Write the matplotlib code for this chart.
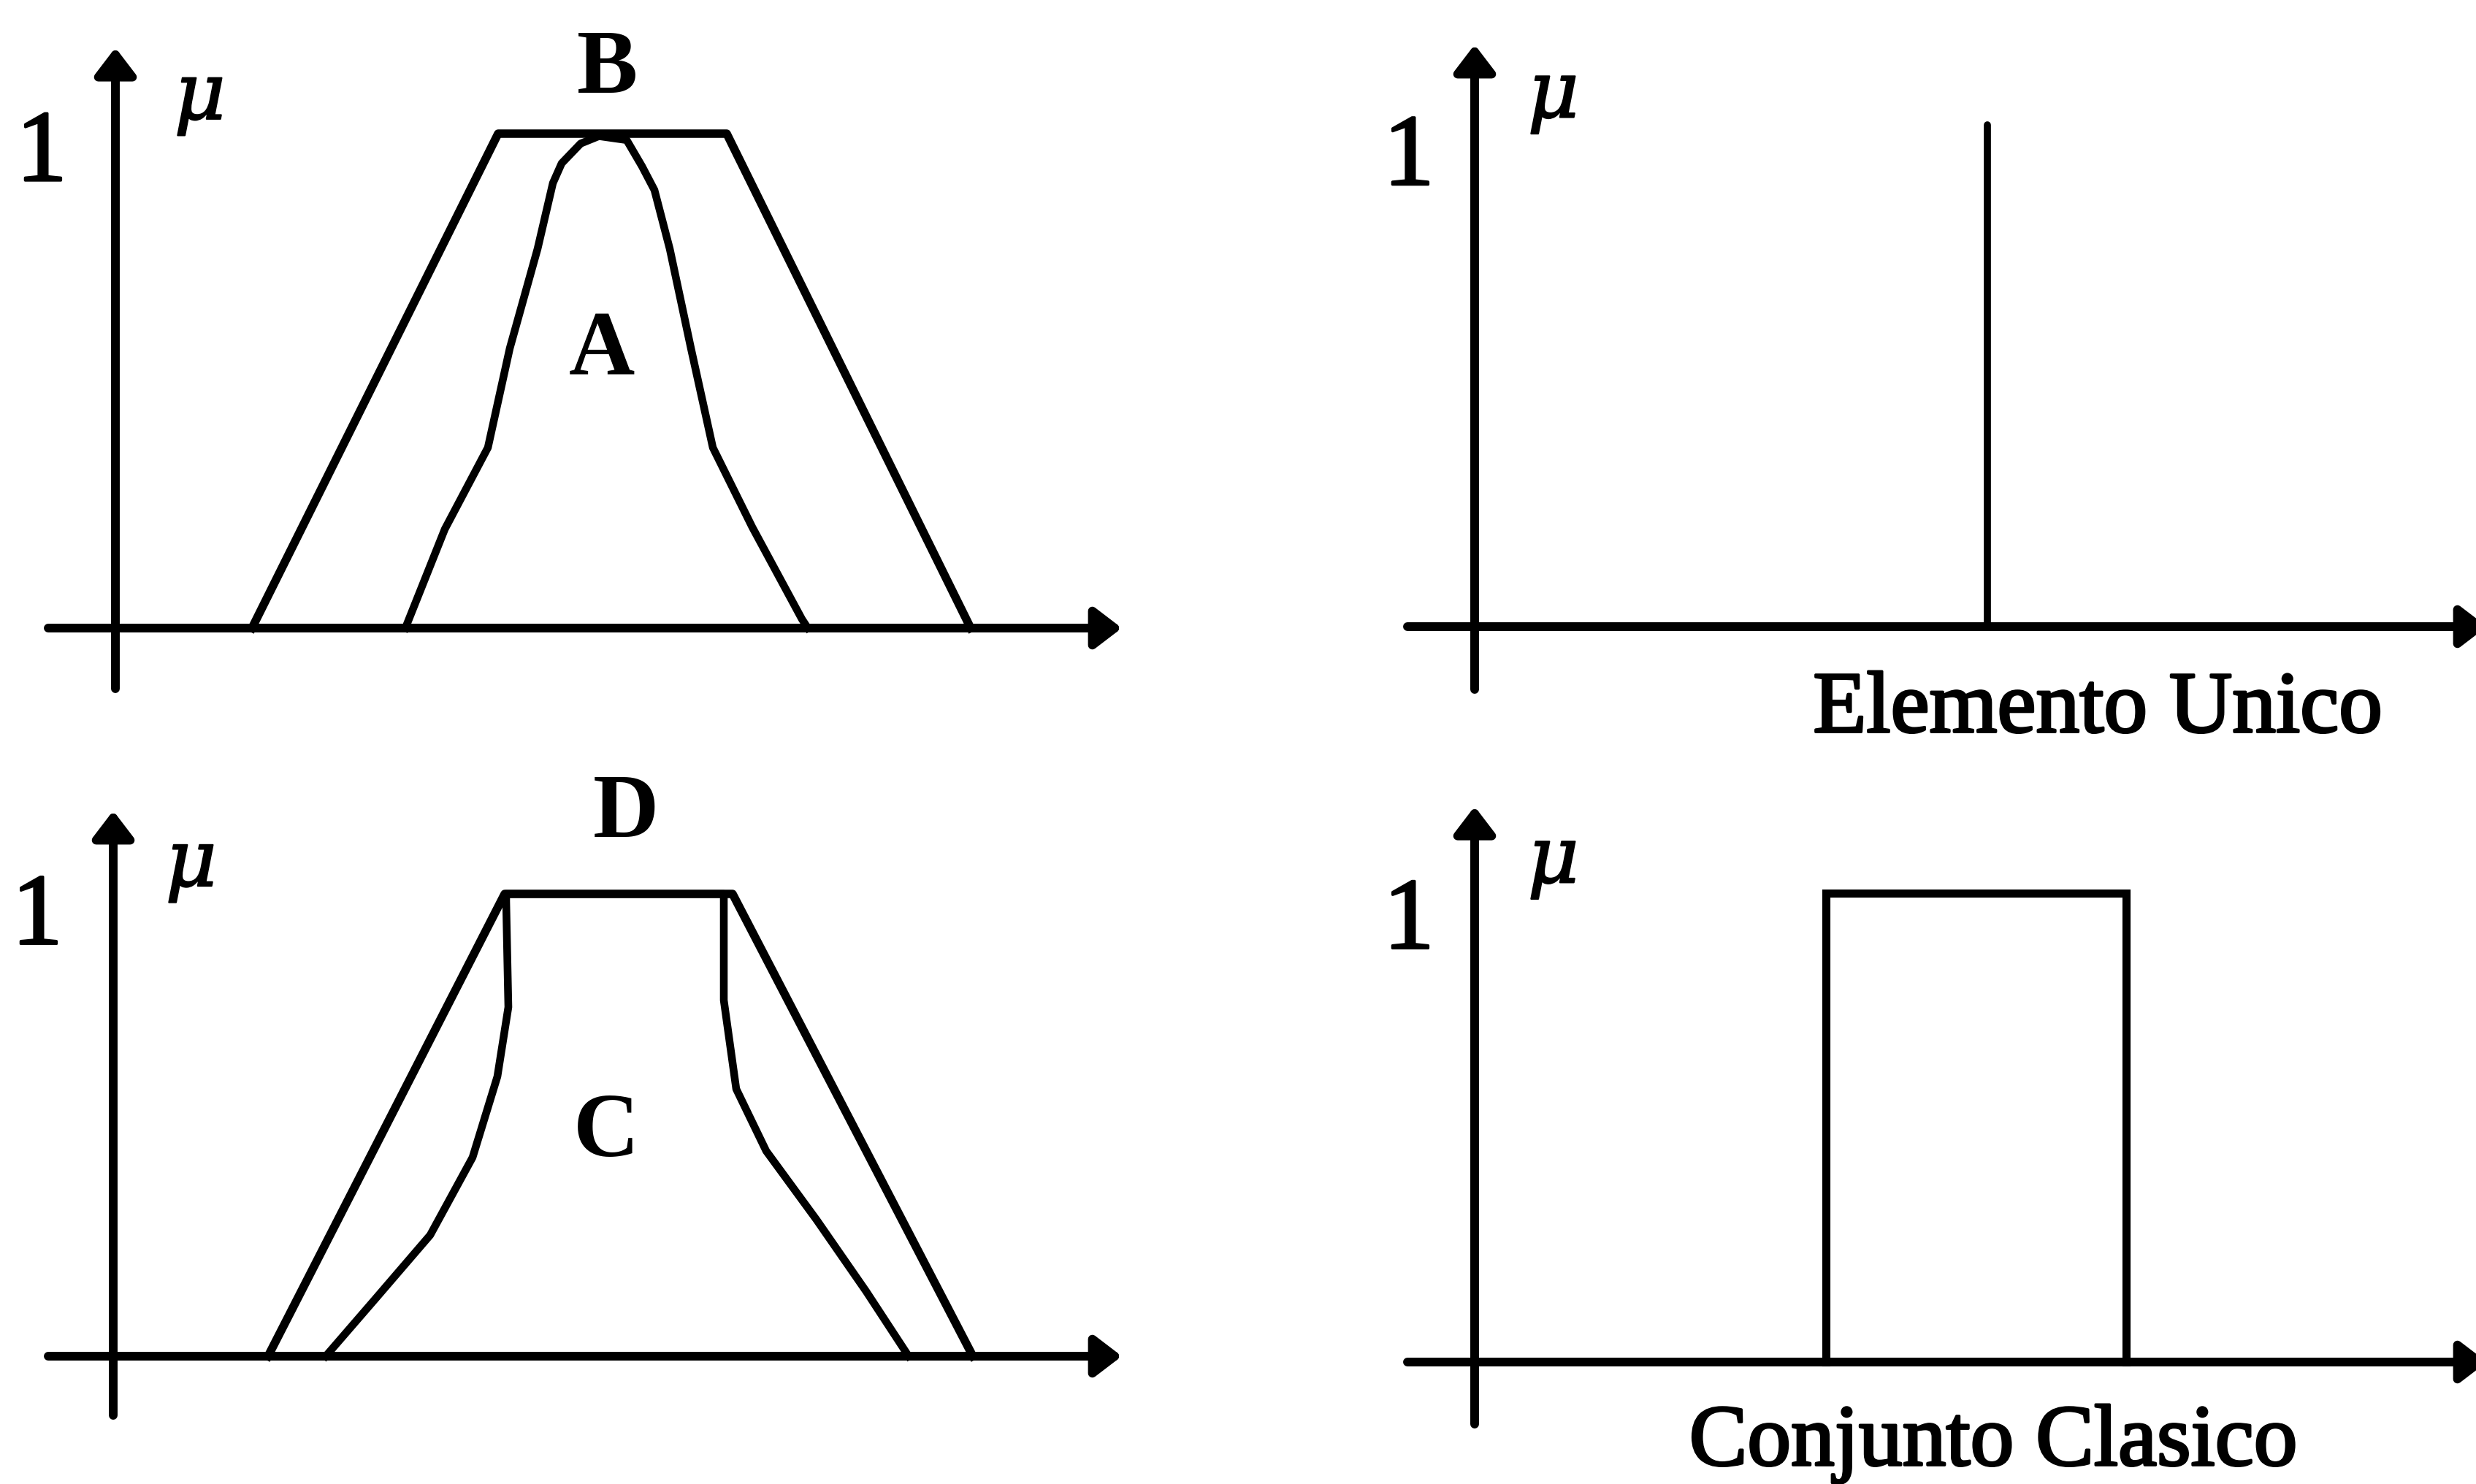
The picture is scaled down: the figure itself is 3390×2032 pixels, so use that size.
import matplotlib
matplotlib.use("Agg")
import matplotlib.pyplot as plt
import matplotlib.patheffects as pe

plt.rcParams['font.family'] = ['Liberation Serif', 'DejaVu Serif']

# fuzzy sets (x in universe units, mu = membership degree)
B_x = [1.87, 5.24, 8.37, 11.71]
B_mu = [0, 1, 1, 0]
A_x = [3.97, 4.51, 5.10, 5.40, 5.78, 5.99, 6.11, 6.37, 6.62,
       7.00, 7.21, 7.38, 7.59, 7.88, 8.18, 8.72, 9.40, 9.48]
A_mu = [0, 0.20, 0.365, 0.566, 0.767, 0.90, 0.94, 0.98, 0.995,
        0.987, 0.934, 0.886, 0.767, 0.566, 0.365, 0.204, 0.018, 0]

D_x = [2.12, 5.36, 8.48, 11.77]
D_mu = [0, 1, 1, 0]
C_x = [2.91, 3.60, 4.34, 4.92, 5.26, 5.41, 5.38, 5.38,
       8.36, 8.36, 8.53, 8.94, 9.63, 10.31, 10.89]
C_mu = [0, 0.126, 0.262, 0.43, 0.605, 0.755, 0.984, 1.0,
        1.0, 0.77, 0.578, 0.444, 0.295, 0.14, 0]

singleton_x = 7.02
singleton_mu = 1.0

crisp_lo, crisp_hi = 4.81, 8.92
crisp_mu = 1.0

W, H = 3390, 2032
fig = plt.figure(figsize=(W / 100, H / 100), dpi=100)
fig.patch.set_facecolor('white')

LW_AXIS = 8.6
LW_SET = 8.3
LW_INNER = 7.6
heavy = [pe.withStroke(linewidth=2.5, foreground='black')]


def panel(box, origin, unit_y):
    # box / origin in pixels (image coords), 100 px per x unit
    x0, y0, x1, y1 = box
    ox, oy = origin
    ax = fig.add_axes([x0 / W, 1 - y1 / H, (x1 - x0) / W, (y1 - y0) / H])
    ax.set_xlim((x0 - ox) / 100, (x1 - ox) / 100)
    ax.set_ylim((oy - y1) / unit_y, (oy - y0) / unit_y)
    ax.axis('off')
    return ax


def arrow(ax, start, tip):
    ax.annotate('', xy=tip, xytext=start,
                arrowprops=dict(arrowstyle='-|>,head_length=0.55,head_width=0.42',
                                mutation_scale=40, lw=LW_AXIS, color='black',
                                shrinkA=0, shrinkB=0, capstyle='round'),
                annotation_clip=False)


def axes_arrows(ax, x_left, x_tip, mu_bot, mu_tip):
    ax.plot([x_left, 0], [0, 0], color='black', lw=LW_AXIS,
            solid_capstyle='round', clip_on=False)
    arrow(ax, (0, 0), (x_tip, 0))
    ax.plot([0, 0], [mu_bot, 0], color='black', lw=LW_AXIS,
            solid_capstyle='round', clip_on=False)
    arrow(ax, (0, 0), (0, mu_tip))


def one_and_mu(ax, one_x, one_y, mu_x, mu_y):
    ax.text(one_x, one_y, '1', fontsize=100, ha='center', va='center',
            path_effects=heavy)
    ax.text(mu_x, mu_y, r'$\mu$', fontsize=78, ha='center', va='center',
            math_fontfamily='dejavuserif',
            path_effects=[pe.withStroke(linewidth=1.5, foreground='black')])


# top left: A inside B
ax1 = panel((0, 0, 1695, 1016), (158, 860), 677)
axes_arrows(ax1, -0.92, 13.78, -0.123, 1.174)
ax1.plot(B_x, B_mu, color='black', lw=LW_SET, solid_joinstyle='round', clip_on=False)
ax1.plot(A_x, A_mu, color='black', lw=LW_INNER, solid_joinstyle='round', clip_on=False)
one_and_mu(ax1, -1.01, 0.955, 1.14, 1.065)
ax1.text(6.74, 1.127, 'B', fontsize=90, fontweight='bold', ha='center', va='center')
ax1.text(6.66, 0.557, 'A', fontsize=90, fontweight='bold', ha='center', va='center')

# top right: singleton
ax2 = panel((1695, 0, 3390, 1016), (2019, 858), 687)
axes_arrows(ax2, -0.92, 13.86, -0.125, 1.16)
ax2.vlines(singleton_x, 0, singleton_mu, color='black', lw=7, capstyle='round')
one_and_mu(ax2, -0.90, 0.93, 1.06, 1.05)
ax2.text(8.53, -0.168, 'Elemento Unico', fontsize=86, ha='center', va='center',
         path_effects=heavy)

# bottom left: C inside D
ax3 = panel((0, 1016, 1695, 2032), (155, 1857), 633)
axes_arrows(ax3, -0.89, 13.81, -0.128, 1.18)
ax3.plot(D_x, D_mu, color='black', lw=LW_SET, solid_joinstyle='round', clip_on=False)
ax3.plot(C_x, C_mu, color='black', lw=LW_INNER, solid_joinstyle='round', clip_on=False)
one_and_mu(ax3, -1.04, 0.945, 1.05, 1.055)
ax3.text(7.02, 1.17, 'D', fontsize=90, fontweight='bold', ha='center', va='center')
ax3.text(6.75, 0.48, 'C', fontsize=90, fontweight='bold', ha='center', va='center')

# bottom right: crisp set
ax4 = panel((1695, 1016, 3390, 2032), (2019, 1865), 642)
axes_arrows(ax4, -0.92, 13.86, -0.132, 1.185)
ax4.plot([crisp_lo, crisp_lo, crisp_hi, crisp_hi], [0, crisp_mu, crisp_mu, 0],
         color='black', lw=8, solid_joinstyle='miter', clip_on=False)
one_and_mu(ax4, -0.90, 0.935, 1.06, 1.06)
ax4.text(7.10, -0.175, 'Conjunto Clasico', fontsize=86, ha='center', va='center',
         path_effects=heavy)

fig.savefig('out.png', dpi=100, facecolor='white')
